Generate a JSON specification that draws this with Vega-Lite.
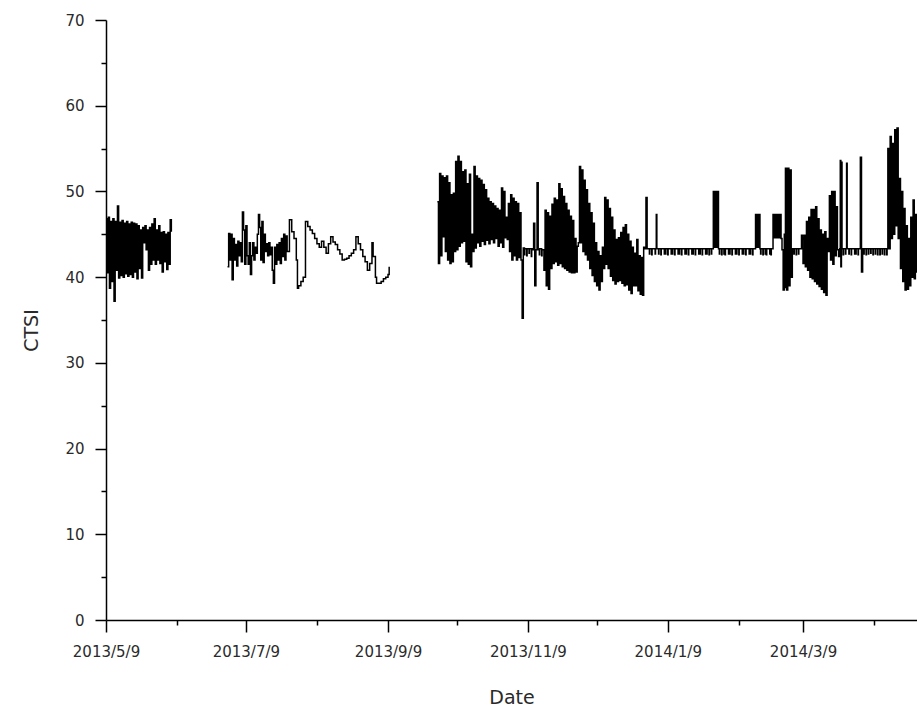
{
  "$schema": "https://vega.github.io/schema/vega-lite/v6.json",
  "width": 811,
  "height": 600,
  "autosize": {"type": "none"},
  "padding": {"left": 106, "top": 20, "right": 0, "bottom": 89},
  "background": "white",
  "config": {"view": {"stroke": null}},
  "data": {
    "format": {"parse": {"t": "date:'%Y-%m-%d %H'"}},
    "values": [
      {"s":1,"t":"2013-05-09 00","v":46.8},{"s":1,"t":"2013-05-09 12","v":40.5},
      {"s":1,"t":"2013-05-10 00","v":47.0},{"s":1,"t":"2013-05-10 12","v":38.7},
      {"s":1,"t":"2013-05-11 00","v":46.5},{"s":1,"t":"2013-05-11 12","v":39.5},
      {"s":1,"t":"2013-05-12 00","v":46.8},{"s":1,"t":"2013-05-12 12","v":37.2},
      {"s":1,"t":"2013-05-13 00","v":46.5},{"s":1,"t":"2013-05-13 12","v":40.8},
      {"s":1,"t":"2013-05-14 00","v":48.3},{"s":1,"t":"2013-05-14 12","v":39.9},
      {"s":1,"t":"2013-05-15 00","v":46.4},{"s":1,"t":"2013-05-15 12","v":40.2},
      {"s":1,"t":"2013-05-16 00","v":46.6},{"s":1,"t":"2013-05-16 12","v":40.0},
      {"s":1,"t":"2013-05-17 00","v":46.3},{"s":1,"t":"2013-05-17 12","v":40.4},
      {"s":1,"t":"2013-05-18 00","v":46.5},{"s":1,"t":"2013-05-18 12","v":40.1},
      {"s":1,"t":"2013-05-19 00","v":46.2},{"s":1,"t":"2013-05-19 12","v":40.3},
      {"s":1,"t":"2013-05-20 00","v":46.4},{"s":1,"t":"2013-05-20 12","v":40.0},
      {"s":1,"t":"2013-05-21 00","v":46.3},{"s":1,"t":"2013-05-21 12","v":40.6},
      {"s":1,"t":"2013-05-22 00","v":46.2},{"s":1,"t":"2013-05-22 12","v":39.8},
      {"s":1,"t":"2013-05-23 00","v":46.0},{"s":1,"t":"2013-05-23 12","v":41.0},
      {"s":1,"t":"2013-05-24 00","v":45.5},{"s":1,"t":"2013-05-24 12","v":39.9},
      {"s":1,"t":"2013-05-25 00","v":45.8},{"s":1,"t":"2013-05-25 12","v":44.0},
      {"s":1,"t":"2013-05-26 00","v":46.0},{"s":1,"t":"2013-05-26 12","v":43.2},
      {"s":1,"t":"2013-05-27 00","v":45.5},{"s":1,"t":"2013-05-27 12","v":40.8},
      {"s":1,"t":"2013-05-28 00","v":45.8},{"s":1,"t":"2013-05-28 12","v":41.5},
      {"s":1,"t":"2013-05-29 00","v":46.2},{"s":1,"t":"2013-05-29 12","v":42.0},
      {"s":1,"t":"2013-05-30 00","v":46.8},{"s":1,"t":"2013-05-30 12","v":41.5},
      {"s":1,"t":"2013-05-31 00","v":45.5},{"s":1,"t":"2013-05-31 12","v":42.0},
      {"s":1,"t":"2013-06-01 00","v":46.0},{"s":1,"t":"2013-06-01 12","v":41.6},
      {"s":1,"t":"2013-06-02 00","v":45.2},{"s":1,"t":"2013-06-02 12","v":40.6},
      {"s":1,"t":"2013-06-03 00","v":45.3},{"s":1,"t":"2013-06-03 12","v":41.8},
      {"s":1,"t":"2013-06-04 00","v":45.0},{"s":1,"t":"2013-06-04 12","v":40.9},
      {"s":1,"t":"2013-06-05 00","v":45.2},{"s":1,"t":"2013-06-05 12","v":41.5},
      {"s":1,"t":"2013-06-06 00","v":46.7},{"s":1,"t":"2013-06-06 12","v":45.3},

      {"s":2,"t":"2013-07-01 00","v":41.2},{"s":2,"t":"2013-07-01 12","v":45.1},
      {"s":2,"t":"2013-07-02 00","v":42.0},{"s":2,"t":"2013-07-02 12","v":45.0},
      {"s":2,"t":"2013-07-03 00","v":39.7},{"s":2,"t":"2013-07-03 12","v":44.5},
      {"s":2,"t":"2013-07-04 00","v":42.0},{"s":2,"t":"2013-07-04 12","v":43.8},
      {"s":2,"t":"2013-07-05 00","v":41.3},{"s":2,"t":"2013-07-05 12","v":44.2},
      {"s":2,"t":"2013-07-06 00","v":42.5},{"s":2,"t":"2013-07-06 12","v":44.0},
      {"s":2,"t":"2013-07-07 00","v":41.8},{"s":2,"t":"2013-07-07 12","v":47.6},
      {"s":2,"t":"2013-07-08 00","v":45.5},{"s":2,"t":"2013-07-08 12","v":41.5},
      {"s":2,"t":"2013-07-09 00","v":46.0},{"s":2,"t":"2013-07-09 12","v":42.5},
      {"s":2,"t":"2013-07-10 00","v":41.5},{"s":2,"t":"2013-07-10 12","v":44.0},
      {"s":2,"t":"2013-07-11 00","v":40.3},{"s":2,"t":"2013-07-11 12","v":42.5},
      {"s":2,"t":"2013-07-12 00","v":44.0},{"s":2,"t":"2013-07-12 12","v":42.0},
      {"s":2,"t":"2013-07-13 00","v":43.5},{"s":2,"t":"2013-07-13 12","v":42.8},
      {"s":2,"t":"2013-07-14 00","v":45.0},{"s":2,"t":"2013-07-14 12","v":47.3},
      {"s":2,"t":"2013-07-15 00","v":45.8},{"s":2,"t":"2013-07-15 12","v":42.0},
      {"s":2,"t":"2013-07-16 00","v":46.5},{"s":2,"t":"2013-07-16 12","v":41.7},
      {"s":2,"t":"2013-07-17 00","v":45.0},{"s":2,"t":"2013-07-17 12","v":43.0},
      {"s":2,"t":"2013-07-18 00","v":43.9},{"s":2,"t":"2013-07-18 12","v":42.5},
      {"s":2,"t":"2013-07-19 00","v":44.0},{"s":2,"t":"2013-07-19 12","v":42.6},
      {"s":2,"t":"2013-07-20 00","v":43.5},{"s":2,"t":"2013-07-20 12","v":40.8},
      {"s":2,"t":"2013-07-21 00","v":39.3},{"s":2,"t":"2013-07-21 12","v":43.5},
      {"s":2,"t":"2013-07-22 00","v":41.5},{"s":2,"t":"2013-07-22 12","v":43.8},
      {"s":2,"t":"2013-07-23 00","v":42.0},{"s":2,"t":"2013-07-23 12","v":44.0},
      {"s":2,"t":"2013-07-24 00","v":41.6},{"s":2,"t":"2013-07-24 12","v":44.5},
      {"s":2,"t":"2013-07-25 00","v":42.4},{"s":2,"t":"2013-07-25 12","v":45.0},
      {"s":2,"t":"2013-07-26 00","v":42.0},{"s":2,"t":"2013-07-26 12","v":44.8},
      {"s":2,"t":"2013-07-27 00","v":43.0},{"s":2,"t":"2013-07-28 00","v":46.7},
      {"s":2,"t":"2013-07-29 00","v":45.3},{"s":2,"t":"2013-07-30 00","v":44.5},
      {"s":2,"t":"2013-07-31 00","v":42.0},{"s":2,"t":"2013-07-31 12","v":38.7},
      {"s":2,"t":"2013-08-01 00","v":39.0},{"s":2,"t":"2013-08-02 00","v":39.5},
      {"s":2,"t":"2013-08-03 00","v":40.0},{"s":2,"t":"2013-08-04 00","v":46.5},
      {"s":2,"t":"2013-08-05 00","v":45.9},{"s":2,"t":"2013-08-06 00","v":45.5},
      {"s":2,"t":"2013-08-07 00","v":45.1},{"s":2,"t":"2013-08-08 00","v":44.5},
      {"s":2,"t":"2013-08-09 00","v":43.9},{"s":2,"t":"2013-08-10 00","v":43.5},
      {"s":2,"t":"2013-08-11 00","v":44.2},{"s":2,"t":"2013-08-12 00","v":43.5},
      {"s":2,"t":"2013-08-13 00","v":42.8},{"s":2,"t":"2013-08-14 00","v":43.9},
      {"s":2,"t":"2013-08-15 00","v":44.7},{"s":2,"t":"2013-08-16 00","v":44.1},
      {"s":2,"t":"2013-08-17 00","v":43.8},{"s":2,"t":"2013-08-18 00","v":43.2},
      {"s":2,"t":"2013-08-19 00","v":42.7},{"s":2,"t":"2013-08-20 00","v":42.0},
      {"s":2,"t":"2013-08-21 00","v":42.1},{"s":2,"t":"2013-08-22 00","v":42.2},
      {"s":2,"t":"2013-08-23 00","v":42.5},{"s":2,"t":"2013-08-24 00","v":42.8},
      {"s":2,"t":"2013-08-25 00","v":43.2},{"s":2,"t":"2013-08-26 00","v":44.7},
      {"s":2,"t":"2013-08-27 00","v":43.9},{"s":2,"t":"2013-08-28 00","v":43.2},
      {"s":2,"t":"2013-08-29 00","v":42.4},{"s":2,"t":"2013-08-30 00","v":41.8},
      {"s":2,"t":"2013-08-31 00","v":40.8},{"s":2,"t":"2013-09-01 00","v":41.6},
      {"s":2,"t":"2013-09-02 00","v":44.0},{"s":2,"t":"2013-09-02 12","v":42.4},
      {"s":2,"t":"2013-09-03 12","v":40.0},{"s":2,"t":"2013-09-04 00","v":39.3},
      {"s":2,"t":"2013-09-05 00","v":39.3},{"s":2,"t":"2013-09-06 00","v":39.5},
      {"s":2,"t":"2013-09-07 00","v":39.8},{"s":2,"t":"2013-09-08 00","v":40.0},
      {"s":2,"t":"2013-09-09 00","v":40.3},{"s":2,"t":"2013-09-09 12","v":41.2},

      {"s":3,"t":"2013-09-30 12","v":48.8},
      {"s":3,"t":"2013-10-01 00","v":41.6},{"s":3,"t":"2013-10-01 12","v":52.1},
      {"s":3,"t":"2013-10-02 00","v":42.5},{"s":3,"t":"2013-10-02 12","v":51.8},
      {"s":3,"t":"2013-10-03 00","v":44.7},{"s":3,"t":"2013-10-03 12","v":51.6},
      {"s":3,"t":"2013-10-04 00","v":43.0},{"s":3,"t":"2013-10-04 12","v":51.8},
      {"s":3,"t":"2013-10-05 00","v":42.0},{"s":3,"t":"2013-10-05 12","v":51.0},
      {"s":3,"t":"2013-10-06 00","v":41.6},{"s":3,"t":"2013-10-06 12","v":49.6},
      {"s":3,"t":"2013-10-07 00","v":41.8},{"s":3,"t":"2013-10-07 12","v":49.8},
      {"s":3,"t":"2013-10-08 00","v":43.0},{"s":3,"t":"2013-10-08 12","v":53.5},
      {"s":3,"t":"2013-10-09 00","v":43.2},{"s":3,"t":"2013-10-09 12","v":54.1},
      {"s":3,"t":"2013-10-10 00","v":43.6},{"s":3,"t":"2013-10-10 12","v":53.5},
      {"s":3,"t":"2013-10-11 00","v":44.0},{"s":3,"t":"2013-10-11 12","v":52.3},
      {"s":3,"t":"2013-10-12 00","v":44.2},{"s":3,"t":"2013-10-12 12","v":52.5},
      {"s":3,"t":"2013-10-13 00","v":41.8},{"s":3,"t":"2013-10-13 12","v":50.9},
      {"s":3,"t":"2013-10-14 00","v":41.5},{"s":3,"t":"2013-10-14 12","v":52.0},
      {"s":3,"t":"2013-10-15 00","v":41.2},{"s":3,"t":"2013-10-15 12","v":45.0},
      {"s":3,"t":"2013-10-16 00","v":43.0},{"s":3,"t":"2013-10-16 12","v":52.9},
      {"s":3,"t":"2013-10-17 00","v":43.4},{"s":3,"t":"2013-10-17 12","v":51.8},
      {"s":3,"t":"2013-10-18 00","v":44.0},{"s":3,"t":"2013-10-18 12","v":51.5},
      {"s":3,"t":"2013-10-19 00","v":43.6},{"s":3,"t":"2013-10-19 12","v":51.3},
      {"s":3,"t":"2013-10-20 00","v":44.2},{"s":3,"t":"2013-10-20 12","v":50.8},
      {"s":3,"t":"2013-10-21 00","v":43.8},{"s":3,"t":"2013-10-21 12","v":50.2},
      {"s":3,"t":"2013-10-22 00","v":44.3},{"s":3,"t":"2013-10-22 12","v":49.2},
      {"s":3,"t":"2013-10-23 00","v":43.9},{"s":3,"t":"2013-10-23 12","v":48.8},
      {"s":3,"t":"2013-10-24 00","v":44.4},{"s":3,"t":"2013-10-24 12","v":48.6},
      {"s":3,"t":"2013-10-25 00","v":44.0},{"s":3,"t":"2013-10-25 12","v":48.3},
      {"s":3,"t":"2013-10-26 00","v":44.5},{"s":3,"t":"2013-10-26 12","v":48.0},
      {"s":3,"t":"2013-10-27 00","v":43.6},{"s":3,"t":"2013-10-27 12","v":47.8},
      {"s":3,"t":"2013-10-28 00","v":44.0},{"s":3,"t":"2013-10-28 12","v":50.4},
      {"s":3,"t":"2013-10-29 00","v":43.5},{"s":3,"t":"2013-10-29 12","v":50.0},
      {"s":3,"t":"2013-10-30 00","v":44.6},{"s":3,"t":"2013-10-30 12","v":47.0},
      {"s":3,"t":"2013-10-31 00","v":44.4},{"s":3,"t":"2013-10-31 12","v":48.6},
      {"s":3,"t":"2013-11-01 00","v":43.0},{"s":3,"t":"2013-11-01 12","v":49.6},
      {"s":3,"t":"2013-11-02 00","v":42.0},{"s":3,"t":"2013-11-02 12","v":49.2},
      {"s":3,"t":"2013-11-03 00","v":42.5},{"s":3,"t":"2013-11-03 12","v":48.8},
      {"s":3,"t":"2013-11-04 00","v":42.0},{"s":3,"t":"2013-11-04 12","v":48.6},
      {"s":3,"t":"2013-11-05 00","v":42.3},{"s":3,"t":"2013-11-05 12","v":47.5},
      {"s":3,"t":"2013-11-06 00","v":42.0},{"s":3,"t":"2013-11-06 12","v":35.2},
      {"s":3,"t":"2013-11-07 00","v":43.4},{"s":3,"t":"2013-11-07 12","v":42.6},
      {"s":3,"t":"2013-11-07 16","v":43.3},{"s":3,"t":"2013-11-08 12","v":42.5},
      {"s":3,"t":"2013-11-08 16","v":43.3},{"s":3,"t":"2013-11-09 12","v":42.8},
      {"s":3,"t":"2013-11-09 16","v":43.3},{"s":3,"t":"2013-11-10 12","v":42.4},
      {"s":3,"t":"2013-11-10 16","v":43.3},
      {"s":3,"t":"2013-11-11 00","v":43.2},{"s":3,"t":"2013-11-11 12","v":46.3},
      {"s":3,"t":"2013-11-12 00","v":39.0},{"s":3,"t":"2013-11-12 12","v":43.2},
      {"s":3,"t":"2013-11-13 00","v":51.0},{"s":3,"t":"2013-11-13 12","v":43.2},
      {"s":3,"t":"2013-11-14 00","v":42.6},{"s":3,"t":"2013-11-14 04","v":43.3},
      {"s":3,"t":"2013-11-15 00","v":42.5},{"s":3,"t":"2013-11-15 04","v":43.2},
      {"s":3,"t":"2013-11-16 00","v":40.8},{"s":3,"t":"2013-11-16 12","v":47.8},
      {"s":3,"t":"2013-11-17 00","v":39.0},{"s":3,"t":"2013-11-17 12","v":47.5},
      {"s":3,"t":"2013-11-18 00","v":38.6},{"s":3,"t":"2013-11-18 12","v":47.1},
      {"s":3,"t":"2013-11-19 00","v":41.0},{"s":3,"t":"2013-11-19 12","v":48.5},
      {"s":3,"t":"2013-11-20 00","v":41.6},{"s":3,"t":"2013-11-20 12","v":49.2},
      {"s":3,"t":"2013-11-21 00","v":41.8},{"s":3,"t":"2013-11-21 12","v":49.0},
      {"s":3,"t":"2013-11-22 00","v":41.4},{"s":3,"t":"2013-11-22 12","v":50.9},
      {"s":3,"t":"2013-11-23 00","v":41.6},{"s":3,"t":"2013-11-23 12","v":50.3},
      {"s":3,"t":"2013-11-24 00","v":41.2},{"s":3,"t":"2013-11-24 12","v":49.4},
      {"s":3,"t":"2013-11-25 00","v":41.0},{"s":3,"t":"2013-11-25 12","v":48.6},
      {"s":3,"t":"2013-11-26 00","v":40.8},{"s":3,"t":"2013-11-26 12","v":47.8},
      {"s":3,"t":"2013-11-27 00","v":40.6},{"s":3,"t":"2013-11-27 12","v":47.1},
      {"s":3,"t":"2013-11-28 00","v":40.5},{"s":3,"t":"2013-11-28 12","v":46.6},
      {"s":3,"t":"2013-11-29 00","v":40.5},{"s":3,"t":"2013-11-29 12","v":44.5},
      {"s":3,"t":"2013-11-30 00","v":40.6},{"s":3,"t":"2013-11-30 12","v":43.6},
      {"s":3,"t":"2013-12-01 00","v":44.0},{"s":3,"t":"2013-12-01 12","v":52.9},
      {"s":3,"t":"2013-12-02 00","v":44.0},{"s":3,"t":"2013-12-02 12","v":52.5},
      {"s":3,"t":"2013-12-03 00","v":43.0},{"s":3,"t":"2013-12-03 12","v":51.3},
      {"s":3,"t":"2013-12-04 00","v":42.6},{"s":3,"t":"2013-12-04 12","v":50.2},
      {"s":3,"t":"2013-12-05 00","v":42.0},{"s":3,"t":"2013-12-05 12","v":48.6},
      {"s":3,"t":"2013-12-06 00","v":41.0},{"s":3,"t":"2013-12-06 12","v":47.5},
      {"s":3,"t":"2013-12-07 00","v":40.2},{"s":3,"t":"2013-12-07 12","v":46.3},
      {"s":3,"t":"2013-12-08 00","v":39.5},{"s":3,"t":"2013-12-08 12","v":44.0},
      {"s":3,"t":"2013-12-09 00","v":39.0},{"s":3,"t":"2013-12-09 12","v":43.0},
      {"s":3,"t":"2013-12-10 00","v":38.5},{"s":3,"t":"2013-12-10 12","v":42.5},
      {"s":3,"t":"2013-12-11 00","v":39.5},{"s":3,"t":"2013-12-11 12","v":43.5},
      {"s":3,"t":"2013-12-12 00","v":41.0},{"s":3,"t":"2013-12-12 12","v":49.3},
      {"s":3,"t":"2013-12-13 00","v":41.5},{"s":3,"t":"2013-12-13 12","v":49.0},
      {"s":3,"t":"2013-12-14 00","v":41.0},{"s":3,"t":"2013-12-14 12","v":48.0},
      {"s":3,"t":"2013-12-15 00","v":40.1},{"s":3,"t":"2013-12-15 12","v":47.0},
      {"s":3,"t":"2013-12-16 00","v":39.6},{"s":3,"t":"2013-12-16 12","v":45.5},
      {"s":3,"t":"2013-12-17 00","v":39.2},{"s":3,"t":"2013-12-17 12","v":44.4},
      {"s":3,"t":"2013-12-18 00","v":39.5},{"s":3,"t":"2013-12-18 12","v":44.6},
      {"s":3,"t":"2013-12-19 00","v":39.6},{"s":3,"t":"2013-12-19 12","v":45.2},
      {"s":3,"t":"2013-12-20 00","v":39.3},{"s":3,"t":"2013-12-20 12","v":45.8},
      {"s":3,"t":"2013-12-21 00","v":39.0},{"s":3,"t":"2013-12-21 12","v":46.1},
      {"s":3,"t":"2013-12-22 00","v":39.1},{"s":3,"t":"2013-12-22 12","v":45.0},
      {"s":3,"t":"2013-12-23 00","v":38.5},{"s":3,"t":"2013-12-23 12","v":44.2},
      {"s":3,"t":"2013-12-24 00","v":38.1},{"s":3,"t":"2013-12-24 12","v":43.5},
      {"s":3,"t":"2013-12-25 00","v":39.0},{"s":3,"t":"2013-12-25 12","v":42.8},
      {"s":3,"t":"2013-12-26 00","v":39.0},{"s":3,"t":"2013-12-26 12","v":44.4},
      {"s":3,"t":"2013-12-27 00","v":38.4},{"s":3,"t":"2013-12-27 12","v":42.5},
      {"s":3,"t":"2013-12-28 00","v":38.0},{"s":3,"t":"2013-12-28 12","v":42.3},
      {"s":3,"t":"2013-12-29 00","v":37.9},{"s":3,"t":"2013-12-29 12","v":43.5},
      {"s":3,"t":"2013-12-30 00","v":43.3},{"s":3,"t":"2013-12-30 12","v":49.3},
      {"s":3,"t":"2013-12-31 00","v":43.3},
      {"s":3,"t":"2014-01-01 00","v":42.7},{"s":3,"t":"2014-01-01 04","v":43.3},
      {"s":3,"t":"2014-01-02 00","v":42.6},{"s":3,"t":"2014-01-02 04","v":43.3},
      {"s":3,"t":"2014-01-03 12","v":42.7},{"s":3,"t":"2014-01-03 16","v":43.3},
      {"s":3,"t":"2014-01-04 00","v":47.3},{"s":3,"t":"2014-01-04 06","v":43.3},
      {"s":3,"t":"2014-01-05 00","v":42.7},{"s":3,"t":"2014-01-05 04","v":43.3},
      {"s":3,"t":"2014-01-06 00","v":42.6},{"s":3,"t":"2014-01-06 04","v":43.3},
      {"s":3,"t":"2014-01-07 12","v":42.7},{"s":3,"t":"2014-01-07 16","v":43.3},
      {"s":3,"t":"2014-01-08 00","v":42.7},{"s":3,"t":"2014-01-08 04","v":43.3},
      {"s":3,"t":"2014-01-09 00","v":42.6},{"s":3,"t":"2014-01-09 04","v":43.3},
      {"s":3,"t":"2014-01-10 12","v":42.7},{"s":3,"t":"2014-01-10 16","v":43.3},
      {"s":3,"t":"2014-01-11 00","v":42.7},{"s":3,"t":"2014-01-11 04","v":43.3},
      {"s":3,"t":"2014-01-12 00","v":42.6},{"s":3,"t":"2014-01-12 04","v":43.3},
      {"s":3,"t":"2014-01-13 12","v":42.7},{"s":3,"t":"2014-01-13 16","v":43.3},
      {"s":3,"t":"2014-01-14 00","v":42.7},{"s":3,"t":"2014-01-14 04","v":43.3},
      {"s":3,"t":"2014-01-15 00","v":42.6},{"s":3,"t":"2014-01-15 04","v":43.3},
      {"s":3,"t":"2014-01-16 12","v":42.7},{"s":3,"t":"2014-01-16 16","v":43.3},
      {"s":3,"t":"2014-01-17 00","v":42.7},{"s":3,"t":"2014-01-17 04","v":43.3},
      {"s":3,"t":"2014-01-18 00","v":42.6},{"s":3,"t":"2014-01-18 04","v":43.3},
      {"s":3,"t":"2014-01-19 12","v":42.7},{"s":3,"t":"2014-01-19 16","v":43.3},
      {"s":3,"t":"2014-01-20 00","v":42.7},{"s":3,"t":"2014-01-20 04","v":43.3},
      {"s":3,"t":"2014-01-21 00","v":42.6},{"s":3,"t":"2014-01-21 04","v":43.3},
      {"s":3,"t":"2014-01-22 12","v":42.7},{"s":3,"t":"2014-01-22 16","v":43.3},
      {"s":3,"t":"2014-01-23 00","v":42.7},{"s":3,"t":"2014-01-23 04","v":43.3},
      {"s":3,"t":"2014-01-24 00","v":42.6},{"s":3,"t":"2014-01-24 04","v":43.3},
      {"s":3,"t":"2014-01-25 12","v":42.7},{"s":3,"t":"2014-01-25 16","v":43.3},
      {"s":3,"t":"2014-01-26 00","v":42.7},{"s":3,"t":"2014-01-26 04","v":43.3},
      {"s":3,"t":"2014-01-27 00","v":42.6},{"s":3,"t":"2014-01-27 04","v":43.3},
      {"s":3,"t":"2014-01-28 00","v":42.7},{"s":3,"t":"2014-01-28 04","v":43.3},
      {"s":3,"t":"2014-01-28 21","v":50.0},{"s":3,"t":"2014-01-29 03","v":43.5},
      {"s":3,"t":"2014-01-29 09","v":50.0},{"s":3,"t":"2014-01-29 15","v":43.5},
      {"s":3,"t":"2014-01-29 21","v":50.0},{"s":3,"t":"2014-01-30 03","v":43.5},
      {"s":3,"t":"2014-01-30 09","v":50.0},{"s":3,"t":"2014-01-30 15","v":43.5},
      {"s":3,"t":"2014-01-30 21","v":50.0},{"s":3,"t":"2014-01-31 03","v":43.3},
      {"s":3,"t":"2014-01-31 12","v":42.7},{"s":3,"t":"2014-01-31 16","v":43.3},
      {"s":3,"t":"2014-02-01 12","v":42.6},{"s":3,"t":"2014-02-01 16","v":43.3},
      {"s":3,"t":"2014-02-02 12","v":42.7},{"s":3,"t":"2014-02-02 16","v":43.3},
      {"s":3,"t":"2014-02-03 00","v":42.6},{"s":3,"t":"2014-02-03 04","v":43.3},
      {"s":3,"t":"2014-02-04 12","v":42.7},{"s":3,"t":"2014-02-04 16","v":43.3},
      {"s":3,"t":"2014-02-05 00","v":42.7},{"s":3,"t":"2014-02-05 04","v":43.3},
      {"s":3,"t":"2014-02-06 00","v":42.6},{"s":3,"t":"2014-02-06 04","v":43.3},
      {"s":3,"t":"2014-02-07 12","v":42.7},{"s":3,"t":"2014-02-07 16","v":43.3},
      {"s":3,"t":"2014-02-08 00","v":42.7},{"s":3,"t":"2014-02-08 04","v":43.3},
      {"s":3,"t":"2014-02-09 00","v":42.6},{"s":3,"t":"2014-02-09 04","v":43.3},
      {"s":3,"t":"2014-02-10 12","v":42.7},{"s":3,"t":"2014-02-10 16","v":43.3},
      {"s":3,"t":"2014-02-11 00","v":42.7},{"s":3,"t":"2014-02-11 04","v":43.3},
      {"s":3,"t":"2014-02-12 00","v":42.6},{"s":3,"t":"2014-02-12 04","v":43.3},
      {"s":3,"t":"2014-02-13 12","v":42.7},{"s":3,"t":"2014-02-13 16","v":43.3},
      {"s":3,"t":"2014-02-14 00","v":42.7},{"s":3,"t":"2014-02-14 04","v":43.3},
      {"s":3,"t":"2014-02-15 00","v":42.6},{"s":3,"t":"2014-02-15 04","v":43.3},
      {"s":3,"t":"2014-02-16 07","v":47.3},
      {"s":3,"t":"2014-02-16 13","v":43.5},{"s":3,"t":"2014-02-16 19","v":47.3},
      {"s":3,"t":"2014-02-17 01","v":43.5},{"s":3,"t":"2014-02-17 07","v":47.3},
      {"s":3,"t":"2014-02-17 13","v":43.5},{"s":3,"t":"2014-02-17 19","v":47.3},
      {"s":3,"t":"2014-02-18 05","v":43.3},{"s":3,"t":"2014-02-18 12","v":42.7},
      {"s":3,"t":"2014-02-18 16","v":43.3},
      {"s":3,"t":"2014-02-19 12","v":42.6},{"s":3,"t":"2014-02-19 16","v":43.3},
      {"s":3,"t":"2014-02-20 12","v":42.7},{"s":3,"t":"2014-02-20 16","v":43.3},
      {"s":3,"t":"2014-02-21 00","v":42.6},{"s":3,"t":"2014-02-21 04","v":43.3},
      {"s":3,"t":"2014-02-22 12","v":42.7},{"s":3,"t":"2014-02-22 16","v":43.3},
      {"s":3,"t":"2014-02-23 00","v":42.6},{"s":3,"t":"2014-02-23 04","v":43.3},
      {"s":3,"t":"2014-02-23 22","v":47.3},{"s":3,"t":"2014-02-24 10","v":44.6},
      {"s":3,"t":"2014-02-24 22","v":47.3},{"s":3,"t":"2014-02-25 10","v":44.6},
      {"s":3,"t":"2014-02-25 22","v":47.3},{"s":3,"t":"2014-02-26 10","v":44.6},
      {"s":3,"t":"2014-02-26 22","v":47.3},{"s":3,"t":"2014-02-27 10","v":44.5},
      {"s":3,"t":"2014-02-27 20","v":43.2},{"s":3,"t":"2014-02-28 08","v":38.5},
      {"s":3,"t":"2014-02-28 20","v":45.0},{"s":3,"t":"2014-03-01 00","v":38.8},
      {"s":3,"t":"2014-03-01 08","v":52.7},{"s":3,"t":"2014-03-01 20","v":38.5},
      {"s":3,"t":"2014-03-02 08","v":52.7},{"s":3,"t":"2014-03-02 20","v":39.0},
      {"s":3,"t":"2014-03-03 08","v":52.5},{"s":3,"t":"2014-03-03 20","v":40.0},
      {"s":3,"t":"2014-03-04 08","v":43.3},
      {"s":3,"t":"2014-03-05 00","v":42.7},{"s":3,"t":"2014-03-05 04","v":43.3},
      {"s":3,"t":"2014-03-06 00","v":42.6},{"s":3,"t":"2014-03-06 04","v":43.3},
      {"s":3,"t":"2014-03-07 00","v":42.7},{"s":3,"t":"2014-03-07 04","v":43.3},
      {"s":3,"t":"2014-03-08 08","v":44.9},{"s":3,"t":"2014-03-08 20","v":43.3},
      {"s":3,"t":"2014-03-09 00","v":41.6},{"s":3,"t":"2014-03-09 12","v":44.9},
      {"s":3,"t":"2014-03-10 00","v":41.2},{"s":3,"t":"2014-03-10 12","v":46.5},
      {"s":3,"t":"2014-03-11 00","v":40.8},{"s":3,"t":"2014-03-11 12","v":47.0},
      {"s":3,"t":"2014-03-12 00","v":40.0},{"s":3,"t":"2014-03-12 12","v":47.9},
      {"s":3,"t":"2014-03-13 00","v":39.8},{"s":3,"t":"2014-03-13 12","v":47.9},
      {"s":3,"t":"2014-03-14 00","v":39.5},{"s":3,"t":"2014-03-14 12","v":48.2},
      {"s":3,"t":"2014-03-15 00","v":39.2},{"s":3,"t":"2014-03-15 12","v":46.8},
      {"s":3,"t":"2014-03-16 00","v":38.9},{"s":3,"t":"2014-03-16 12","v":45.5},
      {"s":3,"t":"2014-03-17 00","v":38.6},{"s":3,"t":"2014-03-17 12","v":45.0},
      {"s":3,"t":"2014-03-18 00","v":38.2},{"s":3,"t":"2014-03-18 12","v":45.3},
      {"s":3,"t":"2014-03-19 00","v":37.9},{"s":3,"t":"2014-03-19 12","v":44.5},
      {"s":3,"t":"2014-03-20 00","v":43.0},{"s":3,"t":"2014-03-20 12","v":49.5},
      {"s":3,"t":"2014-03-21 00","v":42.0},{"s":3,"t":"2014-03-21 12","v":50.0},
      {"s":3,"t":"2014-03-22 00","v":41.5},{"s":3,"t":"2014-03-22 12","v":50.0},
      {"s":3,"t":"2014-03-23 00","v":42.5},{"s":3,"t":"2014-03-23 12","v":48.2},
      {"s":3,"t":"2014-03-24 00","v":43.2},{"s":3,"t":"2014-03-24 12","v":42.4},
      {"s":3,"t":"2014-03-25 00","v":43.3},{"s":3,"t":"2014-03-25 06","v":53.6},
      {"s":3,"t":"2014-03-25 12","v":41.2},{"s":3,"t":"2014-03-25 18","v":53.4},
      {"s":3,"t":"2014-03-26 00","v":43.3},{"s":3,"t":"2014-03-26 12","v":42.6},
      {"s":3,"t":"2014-03-26 16","v":43.3},{"s":3,"t":"2014-03-27 12","v":42.7},
      {"s":3,"t":"2014-03-27 16","v":43.3},
      {"s":3,"t":"2014-03-28 00","v":53.3},{"s":3,"t":"2014-03-28 06","v":43.3},
      {"s":3,"t":"2014-03-29 00","v":42.7},{"s":3,"t":"2014-03-29 04","v":43.3},
      {"s":3,"t":"2014-03-30 00","v":42.6},{"s":3,"t":"2014-03-30 04","v":43.3},
      {"s":3,"t":"2014-03-31 12","v":42.7},{"s":3,"t":"2014-03-31 16","v":43.3},
      {"s":3,"t":"2014-04-01 00","v":42.7},{"s":3,"t":"2014-04-01 04","v":43.3},
      {"s":3,"t":"2014-04-02 00","v":42.6},{"s":3,"t":"2014-04-02 04","v":43.3},
      {"s":3,"t":"2014-04-03 00","v":54.0},{"s":3,"t":"2014-04-03 12","v":40.6},
      {"s":3,"t":"2014-04-04 00","v":43.3},{"s":3,"t":"2014-04-04 12","v":42.7},
      {"s":3,"t":"2014-04-04 16","v":43.3},{"s":3,"t":"2014-04-05 12","v":42.6},
      {"s":3,"t":"2014-04-05 16","v":43.3},{"s":3,"t":"2014-04-06 12","v":42.7},
      {"s":3,"t":"2014-04-06 16","v":43.3},{"s":3,"t":"2014-04-07 12","v":42.8},
      {"s":3,"t":"2014-04-07 16","v":43.3},{"s":3,"t":"2014-04-08 12","v":42.6},
      {"s":3,"t":"2014-04-08 16","v":43.3},{"s":3,"t":"2014-04-09 12","v":42.7},
      {"s":3,"t":"2014-04-09 16","v":43.3},{"s":3,"t":"2014-04-10 12","v":42.6},
      {"s":3,"t":"2014-04-10 16","v":43.3},{"s":3,"t":"2014-04-11 12","v":42.6},
      {"s":3,"t":"2014-04-11 16","v":43.3},{"s":3,"t":"2014-04-12 12","v":42.7},
      {"s":3,"t":"2014-04-12 16","v":43.3},{"s":3,"t":"2014-04-13 12","v":42.6},
      {"s":3,"t":"2014-04-13 16","v":43.3},{"s":3,"t":"2014-04-14 12","v":42.6},
      {"s":3,"t":"2014-04-14 16","v":43.3},
      {"s":3,"t":"2014-04-15 00","v":55.0},{"s":3,"t":"2014-04-15 12","v":43.3},
      {"s":3,"t":"2014-04-16 00","v":56.4},{"s":3,"t":"2014-04-16 12","v":44.5},
      {"s":3,"t":"2014-04-17 00","v":55.6},{"s":3,"t":"2014-04-17 12","v":45.0},
      {"s":3,"t":"2014-04-18 00","v":57.2},{"s":3,"t":"2014-04-18 12","v":46.0},
      {"s":3,"t":"2014-04-19 00","v":57.4},{"s":3,"t":"2014-04-19 12","v":44.5},
      {"s":3,"t":"2014-04-20 00","v":51.5},{"s":3,"t":"2014-04-20 12","v":41.0},
      {"s":3,"t":"2014-04-21 00","v":50.0},{"s":3,"t":"2014-04-21 12","v":39.5},
      {"s":3,"t":"2014-04-22 00","v":48.0},{"s":3,"t":"2014-04-22 12","v":38.5},
      {"s":3,"t":"2014-04-23 00","v":46.0},{"s":3,"t":"2014-04-23 12","v":38.6},
      {"s":3,"t":"2014-04-24 00","v":44.5},{"s":3,"t":"2014-04-24 12","v":39.0},
      {"s":3,"t":"2014-04-25 00","v":47.0},{"s":3,"t":"2014-04-25 12","v":40.0},
      {"s":3,"t":"2014-04-26 00","v":49.0},{"s":3,"t":"2014-04-26 12","v":39.8},
      {"s":3,"t":"2014-04-27 00","v":47.3},{"s":3,"t":"2014-04-27 12","v":40.5}
    ]
  },
  "mark": {"type": "line", "interpolate": "step-after", "color": "#000000", "strokeWidth": 1.5, "clip": true},
  "encoding": {
    "detail": {"field": "s", "type": "nominal"},
    "x": {
      "field": "t",
      "type": "temporal",
      "scale": {
        "domain": [
          {"year": 2013, "month": 5, "date": 9},
          {"year": 2014, "month": 4, "date": 27, "hours": 17}
        ],
        "nice": false
      },
      "axis": {
        "title": "Date",
        "grid": false,
        "values": [
          {"year": 2013, "month": 5, "date": 9},
          {"year": 2013, "month": 6, "date": 9},
          {"year": 2013, "month": 7, "date": 9},
          {"year": 2013, "month": 8, "date": 9},
          {"year": 2013, "month": 9, "date": 9},
          {"year": 2013, "month": 10, "date": 9},
          {"year": 2013, "month": 11, "date": 9},
          {"year": 2013, "month": 12, "date": 9},
          {"year": 2014, "month": 1, "date": 9},
          {"year": 2014, "month": 2, "date": 9},
          {"year": 2014, "month": 3, "date": 9},
          {"year": 2014, "month": 4, "date": 9}
        ],
        "labelExpr": "month(datum.value) % 2 == 0 ? year(datum.value) + '/' + (month(datum.value) + 1) + '/' + date(datum.value) : ''",
        "labelOverlap": false,
        "labelFlush": false,
        "labelFont": "DejaVu Sans",
        "labelFontSize": 15,
        "labelColor": "#2a2a2a",
        "labelPadding": 12,
        "tickSize": {"condition": {"test": "month(datum.value) % 2 == 1", "value": 5}, "value": 12},
        "tickColor": "#000000",
        "tickWidth": 1.5,
        "domainColor": "#000000",
        "domainWidth": 1.5,
        "titleFont": "DejaVu Sans",
        "titleFontSize": 19,
        "titleFontWeight": "normal",
        "titleColor": "#2a2a2a",
        "titleBaseline": "alphabetic",
        "titleY": 83
      }
    },
    "y": {
      "field": "v",
      "type": "quantitative",
      "scale": {"domain": [0, 70], "nice": false, "zero": false},
      "axis": {
        "title": "CTSI",
        "grid": false,
        "values": [0, 5, 10, 15, 20, 25, 30, 35, 40, 45, 50, 55, 60, 65, 70],
        "labelExpr": "datum.value % 10 == 0 ? datum.label : ''",
        "labelOverlap": false,
        "labelFlush": false,
        "labelFont": "DejaVu Sans",
        "labelFontSize": 15,
        "labelColor": "#2a2a2a",
        "labelPadding": 11,
        "tickSize": {"condition": {"test": "datum.value % 10 != 0", "value": 5}, "value": 11},
        "tickColor": "#000000",
        "tickWidth": 1.5,
        "domainColor": "#000000",
        "domainWidth": 1.5,
        "titleFont": "DejaVu Sans",
        "titleFontSize": 19,
        "titleFontWeight": "normal",
        "titleColor": "#2a2a2a",
        "titleAngle": -90,
        "titleAlign": "center",
        "titleBaseline": "alphabetic",
        "titleX": -69,
        "titleY": 310
      }
    }
  }
}
